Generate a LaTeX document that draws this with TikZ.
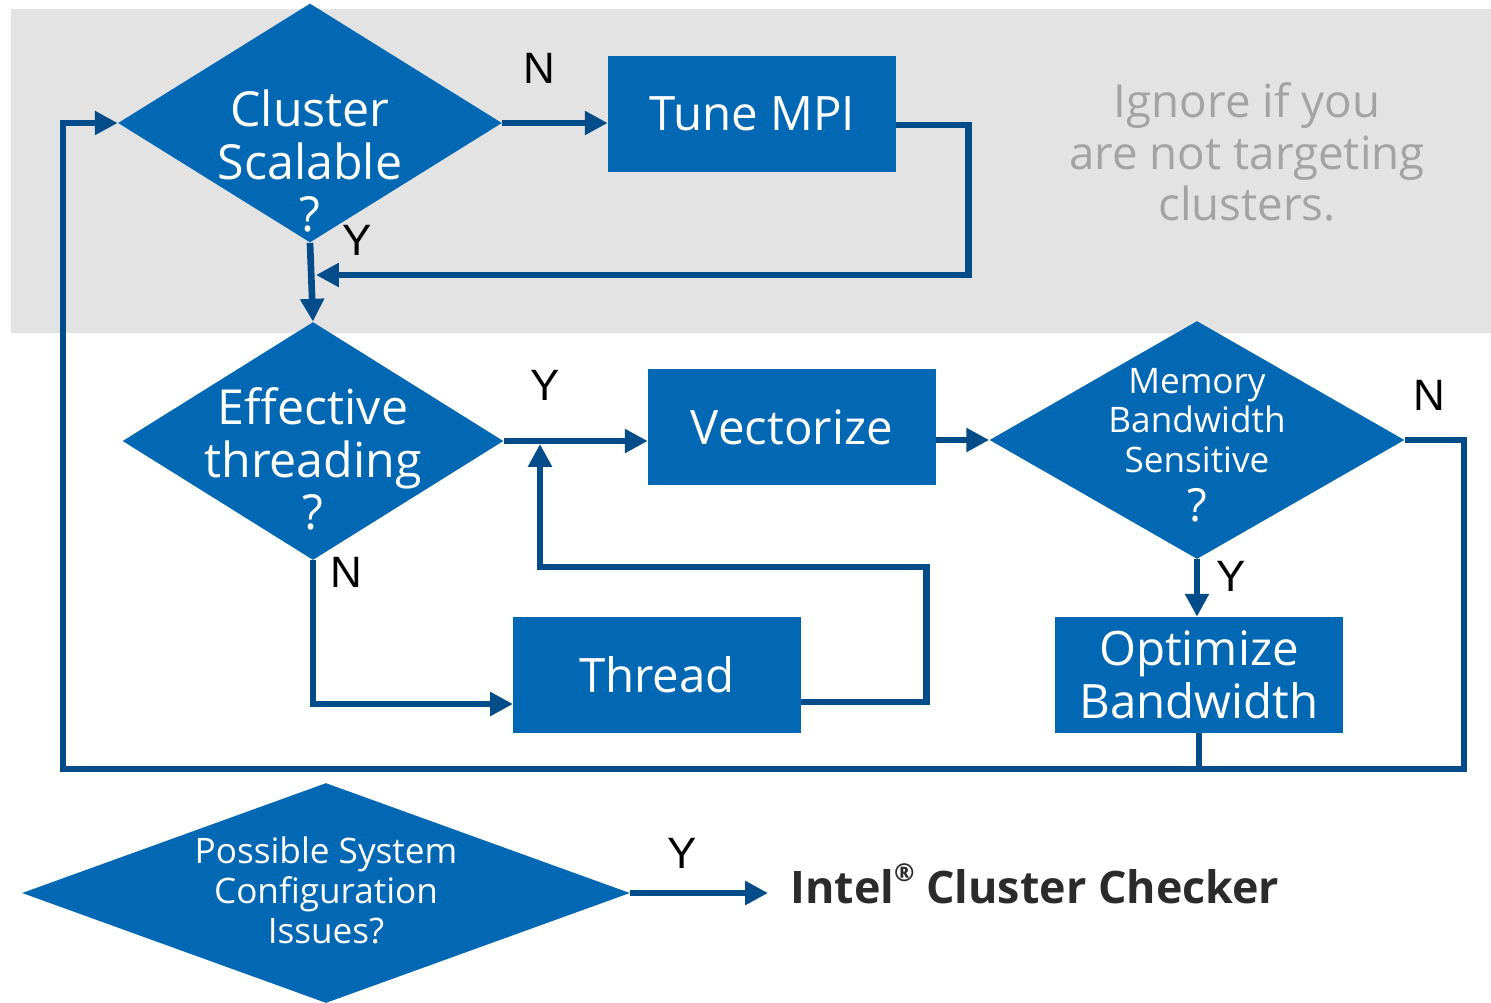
\documentclass[tikz,border=0pt]{standalone}
\usepackage{fontspec}
\setmainfont{Open Sans}
\newfontfamily\ynfont{Liberation Sans}
\usetikzlibrary{shapes.geometric,arrows.meta}
\definecolor{boxblue}{RGB}{3,104,180}
\definecolor{lineblue}{RGB}{2,76,137}
\definecolor{bandgray}{RGB}{227,227,227}
\definecolor{notegray}{RGB}{163,163,163}
\definecolor{checkgray}{RGB}{43,43,43}
\begin{document}
\begin{tikzpicture}[x=0.02cm,y=-0.02cm,
    decision/.style={diamond,fill=boxblue,inner sep=0pt},
    process/.style={rectangle,fill=boxblue,text=white,minimum width=5.76cm,
      minimum height=2.32cm,inner sep=0pt,align=center,font=\fontsize{27}{30}\selectfont},
    bigtext/.style={text=white,align=center,inner sep=0pt,font=\fontsize{27.5}{30}\selectfont},
    smalltext/.style={text=white,align=center,inner sep=0pt,font=\fontsize{20}{22.7}\selectfont},
    yn/.style={inner sep=0pt,font=\ynfont\fontsize{25}{25}\selectfont},
    flow/.style={draw=lineblue,line width=3.8pt,-{Triangle[length=13pt,width=13pt]}},
    link/.style={draw=lineblue,line width=3.8pt}]
  \useasboundingbox (0,0) rectangle (1491,1002);
  \fill[bandgray] (11,9) rectangle (1491,333);
  \node[text=notegray,align=center,font=\fontsize{26}{29.3}\selectfont] (note)
    at (1247,152) {Ignore if you\\are not targeting\\clusters.};

  \node[decision,minimum width=7.68cm,minimum height=4.78cm,
    label={[bigtext,yshift=-0.76cm]center:{Cluster\\Scalable\\?}}] (cluster) at (310,123) {};
  \node[decision,minimum width=7.62cm,minimum height=4.76cm,
    label={[bigtext,yshift=-0.36cm]center:{Effective\\threading\\?}}] (effective) at (313,441) {};
  \node[decision,minimum width=8.3cm,minimum height=4.76cm,
    label={[smalltext,yshift=-0.1cm]center:{Memory\\Bandwidth\\Sensitive\\[5pt]{\fontsize{26}{26}\selectfont ?}}}] (memory) at (1197,440) {};
  \node[decision,minimum width=12.16cm,minimum height=4.4cm,
    label={[smalltext,yshift=0.06cm]center:{Possible System\\Configuration\\Issues?}}] (system) at (326,893) {};

  \node[process] (tune) at (752,114) {Tune MPI};
  \node[process] (vec) at (792,427) {Vectorize};
  \node[process] (thread) at (657,675) {Thread};
  \node[process] (opt) at (1199,675) {Optimize\\Bandwidth};
  \node[anchor=west,inner xsep=12.5pt,text=checkgray,font=\bfseries\fontsize{25.5}{27}\selectfont]
    (checker) at (768,884) {Intel\raisebox{0.5em}{\fontsize{14}{14}\selectfont ®} Cluster Checker};

  \node[yn] (n1) at (539,68) {N};
  \node[yn] (y1) at (357,240) {Y};
  \node[yn] (y2) at (545,385) {Y};
  \node[yn] (n2) at (346,572) {N};
  \node[yn] (n3) at (1429,395) {N};
  \node[yn] (y3) at (1231,576) {Y};
  \node[yn] (y4) at (682,853) {Y};

  \coordinate (merge1) at (316,275);
  \coordinate (merge2) at (540,444);
  \coordinate (threadin) at (513,704);
  \coordinate (loopR) at (1464,769);
  \coordinate (loopL) at (63,769);

  \draw[flow] (cluster.east) -- (cluster.east -| tune.west);
  \draw[flow] ([yshift=-0.22cm]tune.east) -- ++(72,0) |- (merge1);
  \draw[flow] (cluster.south) -- (effective.north);
  \draw[flow] (effective.east) -- (effective.east -| vec.west);
  \draw[flow] (vec.east |- memory.west) -- (memory.west);
  \draw[flow] (memory.east) -| (loopR) -- (loopL) |- (cluster.west);
  \draw[flow] (memory.south) -- (memory.south |- opt.north);
  \draw[link] (opt.south) -- (opt.south |- loopR);
  \draw[flow] (effective.south) |- (threadin);
  \draw[flow] ([yshift=-0.54cm]thread.east) -- ++(125,0) -- ++(0,-135) -| (merge2);
  \draw[flow] (system.east) -- (system.east -| checker.west);
\end{tikzpicture}
\end{document}
